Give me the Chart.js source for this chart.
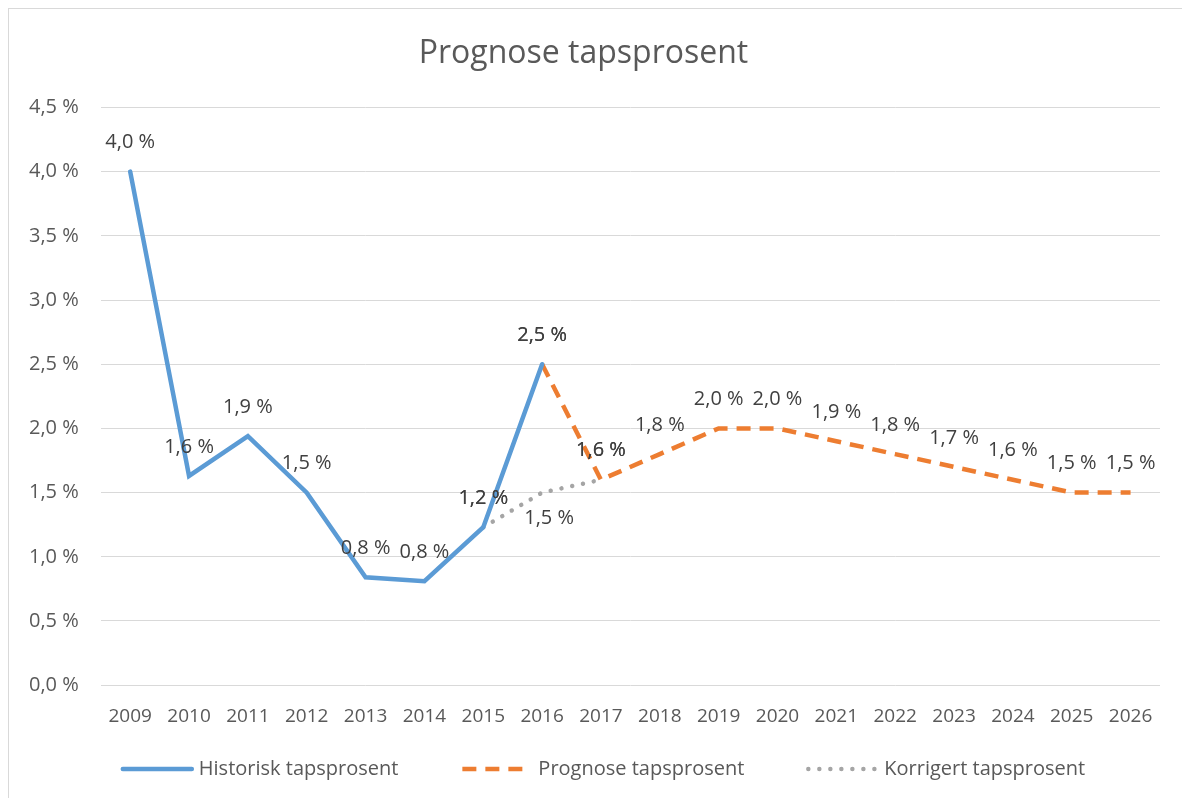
<!DOCTYPE html>
<html>
<head>
<meta charset="utf-8">
<script src="https://cdn.jsdelivr.net/npm/chart.js@4/dist/chart.umd.min.js"></script>
<style>
  html, body { margin: 0; padding: 0; background: #fff; overflow: hidden; }
  .frame {
    position: absolute; left: 8px; top: 8px;
    width: 1180px; height: 796px;
    border: 1px solid #d9d9d9; box-sizing: border-box;
  }
  #wrap { position: absolute; left: 0; top: 0; width: 1182px; height: 798px; }
</style>
</head>
<body>
<div class="frame"></div>
<div id="wrap"><canvas id="lossChart" width="1182" height="798"></canvas></div>
<script>
// Chart data
const years = ['2009', '2010', '2011', '2012', '2013', '2014', '2015', '2016', '2017',
  '2018', '2019', '2020', '2021', '2022', '2023', '2024', '2025', '2026'];
const historisk = [4.0, 1.63, 1.94, 1.5, 0.84, 0.81, 1.23, 2.5, null,
  null, null, null, null, null, null, null, null, null];
const prognose = [null, null, null, null, null, null, null, 2.5, 1.6,
  1.8, 2.0, 2.0, 1.9, 1.8, 1.7, 1.6, 1.5, 1.5];
const korrigert = [null, null, null, null, null, null, 1.23, 1.5, 1.6,
  null, null, null, null, null, null, null, null, null];
const yTicks = [0, 0.5, 1.0, 1.5, 2.0, 2.5, 3.0, 3.5, 4.0, 4.5];

const fontFamily = "'Open Sans', 'Liberation Sans', sans-serif";
const textColor = '#595959';

function pct(v, digits) {
  return v.toFixed(digits).replace('.', ',') + ' %';
}

// Value labels drawn above each point (gray 2016 one sits below)
const valueLabels = {
  id: 'valueLabels',
  afterDatasetsDraw(chart) {
    const ctx = chart.ctx;
    ctx.save();
    ctx.font = '20px ' + fontFamily;
    ctx.fillStyle = '#404040';
    ctx.textAlign = 'center';
    ctx.textBaseline = 'middle';
    chart.data.datasets.forEach((ds, i) => {
      const meta = chart.getDatasetMeta(i);
      meta.data.forEach((pt, j) => {
        const v = ds.data[j];
        if (v === null || v === undefined) return;
        let dx = 0, dy = -29;
        if (ds.labelBelow && ds.labelBelow[j]) { dx = 7; dy = 26; }
        ctx.fillText(pct(v, 1), pt.x + dx, pt.y + dy);
      });
    });
    ctx.restore();
  }
};

// Legend drawn by hand so the line samples keep their dash pattern
const lineLegend = {
  id: 'lineLegend',
  afterDraw(chart) {
    const ctx = chart.ctx;
    const sample = 73, gap = 5, itemGap = 62, y = 769, center = 603;
    ctx.save();
    ctx.font = '20px ' + fontFamily;
    ctx.textBaseline = 'middle';
    const items = chart.data.datasets.map(ds => ({ ds, w: sample + gap + ctx.measureText(ds.label).width }));
    const total = items.reduce((s, it) => s + it.w, 0) + itemGap * (items.length - 1);
    let x = center - total / 2;
    items.forEach(it => {
      ctx.beginPath();
      ctx.strokeStyle = it.ds.borderColor;
      ctx.lineWidth = it.ds.borderWidth;
      ctx.lineCap = it.ds.borderCapStyle || 'butt';
      ctx.setLineDash(it.ds.borderDash || []);
      ctx.moveTo(x + 2, y);
      ctx.lineTo(x + sample - 2, y);
      ctx.stroke();
      ctx.setLineDash([]);
      ctx.fillStyle = textColor;
      ctx.fillText(it.ds.label, x + sample + gap, y);
      x += it.w + itemGap;
    });
    ctx.restore();
  }
};

new Chart(document.getElementById('lossChart'), {
  type: 'line',
  data: {
    labels: years,
    datasets: [
      {
        label: 'Historisk tapsprosent',
        data: historisk,
        borderColor: '#5b9bd5',
        backgroundColor: '#5b9bd5',
        borderWidth: 4.5,
        borderCapStyle: 'round',
        pointRadius: 0,
        tension: 0
      },
      {
        label: 'Prognose tapsprosent',
        data: prognose,
        borderColor: '#ed7d31',
        backgroundColor: '#ed7d31',
        borderWidth: 4.5,
        borderDash: [14, 9],
        pointRadius: 0,
        tension: 0
      },
      {
        label: 'Korrigert tapsprosent',
        data: korrigert,
        borderColor: '#a5a5a5',
        backgroundColor: '#a5a5a5',
        borderWidth: 4.5,
        borderDash: [0.01, 11],
        borderCapStyle: 'round',
        pointRadius: 0,
        tension: 0,
        labelBelow: [false, false, false, false, false, false, false, true]
      }
    ]
  },
  options: {
    responsive: false,
    animation: false,
    layout: { padding: { left: 7, right: 22, top: 12, bottom: 50 } },
    plugins: {
      title: {
        display: true,
        text: 'Prognose tapsprosent',
        color: textColor,
        font: { family: fontFamily, size: 32, weight: 'normal' },
        padding: { top: 23, bottom: 34 }
      },
      legend: { display: false },
      tooltip: { enabled: false }
    },
    scales: {
      x: {
        offset: true,
        grid: { display: false, drawTicks: false },
        border: { display: false },
        ticks: {
          color: textColor,
          font: { family: fontFamily, size: 19 },
          padding: 20,
          maxRotation: 0,
          autoSkip: false
        }
      },
      y: {
        min: 0,
        max: 4.5,
        afterBuildTicks: axis => { axis.ticks = yTicks.map(v => ({ value: v })); },
        grid: { color: '#d9d9d9', lineWidth: 1, drawTicks: false },
        border: { display: false },
        ticks: {
          color: textColor,
          font: { family: fontFamily, size: 20 },
          padding: 22,
          callback: v => pct(v, 1)
        }
      }
    }
  },
  plugins: [valueLabels, lineLegend]
});
</script>
</body>
</html>
